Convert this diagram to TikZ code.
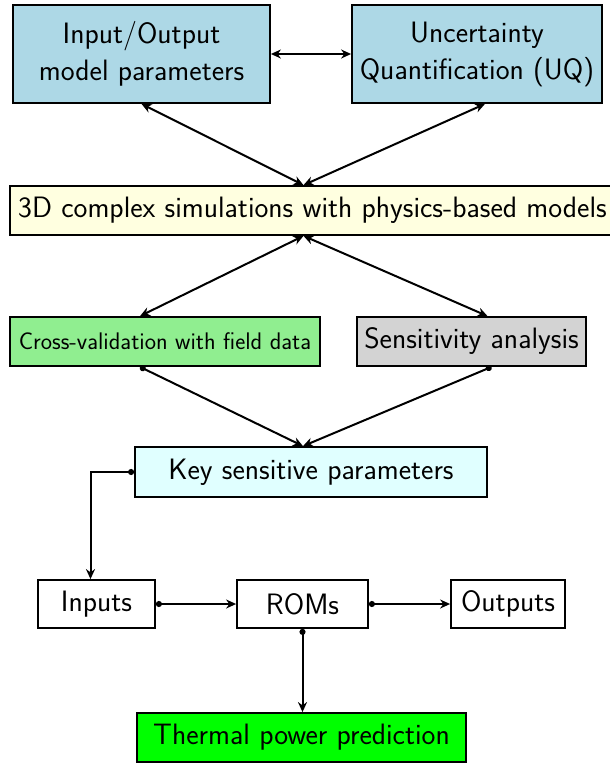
\documentclass[tikz,border=0pt]{standalone}
\usepackage{tikz}
\usetikzlibrary{arrows.meta, positioning, calc}
\definecolor{ioblue}{HTML}{ADD8E6}
\definecolor{simyellow}{HTML}{FFFFE0}
\definecolor{cvgreen}{HTML}{90EE90}
\definecolor{sagray}{HTML}{D3D3D3}
\definecolor{keycyan}{HTML}{E0FFFF}
\definecolor{tplime}{HTML}{00FF00}
\tikzset{
	blk/.style={draw, line width=1.8pt, inner sep=0pt, align=center, font=\sffamily\fontsize{29.5}{37}\selectfont},
	link/.style={line width=2pt, {Circle[length=6pt]}-{Stealth[length=10pt,width=9pt]}},
	dlink/.style={line width=2pt, {Stealth[length=10pt,width=9pt]}-{Stealth[length=10pt,width=9pt]}}
}
\begin{document}
\begin{tikzpicture}[x=1pt, y=-1pt]
			\useasboundingbox (0,0) rectangle (610,763);
			\draw (141.5,54) node[blk, fill=ioblue, minimum width=257pt, minimum height=98pt] (io) {Input/Output\\model parameters}
			(477,54) node[blk, fill=ioblue, minimum width=250pt, minimum height=98pt] (uq) {Uncertainty\\Quantification (UQ)}
			(312.5,210.5) node[blk, fill=simyellow, minimum width=605pt, minimum height=49pt] (sim) {3D complex simulations with physics-based models}
			(165,341.5) node[blk, fill=cvgreen, minimum width=310pt, minimum height=49pt, font=\sffamily\fontsize{24}{28}\selectfont] (cv) {Cross-validation with field data}
			(471.5,341.5) node[blk, fill=sagray, minimum width=229pt, minimum height=49pt] (sa) {Sensitivity analysis}
			(311,472) node[blk, fill=keycyan, minimum width=352pt, minimum height=50pt] (key) {Key sensitive parameters}
			(96.5,604) node[blk, minimum width=117pt, minimum height=48pt] (inp) {Inputs}
			(302.5,604) node[blk, minimum width=131pt, minimum height=48pt] (rom) {ROMs}
			(508,604) node[blk, minimum width=114pt, minimum height=48pt] (out) {Outputs}
			(301.5,737.5) node[blk, fill=tplime, minimum width=329pt, minimum height=49pt] (tp) {Thermal power prediction};
			
			\draw[dlink] (io.east) -- (uq.west);
			\draw[dlink] ([xshift=-9pt]sim.north) -- (io.south);
			\draw[dlink] ([xshift=-9pt]sim.north) -- ([xshift=8pt]uq.south);
			\draw[dlink] ([xshift=-9pt]sim.south) -- ([xshift=-25pt]cv.north);
			\draw[dlink] ([xshift=-9pt]sim.south) -- ([xshift=16pt]sa.north);
			\draw[link] ([xshift=-25pt]cv.south) -- ([xshift=-8pt]key.north);
			\draw[link] ([xshift=20pt]sa.south) -- ([xshift=-8pt]key.north);
			\draw[link] (key.west) -| ([xshift=-6pt]inp.north);
			\draw[link] (inp.east) -- (rom.west);
			\draw[link] (rom.east) -- (out.west);
			\draw[link] (rom.south) -- (rom.south |- tp.north);
		\end{tikzpicture}
\end{document}
